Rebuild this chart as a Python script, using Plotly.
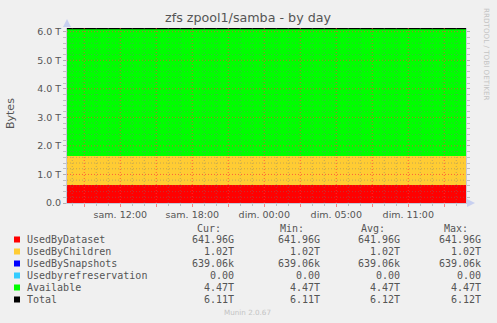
import plotly.graph_objects as go

# ---------------- data ----------------
# time in hours since Saturday 00:00 (first and last sample of the day graph)
times = [7.56, 40.81]
used_by_dataset = [641.96 / 1024, 641.96 / 1024]      # TiB
used_by_children = [1.02, 1.02]
used_by_snapshots = [639.06e3 / 1024**4, 639.06e3 / 1024**4]
used_by_refreservation = [0.0, 0.0]
available = [4.47, 4.47]
total = [6.11, 6.11]

series_names = ["UsedByDataset", "UsedByChildren", "UsedBySnapshots",
                "Usedbyrefreservation", "Available", "Total"]
series_colors = ["#FF0000", "#FFCC33", "#0000FF", "#33CCFF", "#00FF00", "#000000"]
cur_vals = ["641.96G", "1.02T", "639.06k", "0.00", "4.47T", "6.11T"]
min_vals = ["641.96G", "1.02T", "639.06k", "0.00", "4.47T", "6.11T"]
avg_vals = ["641.96G", "1.02T", "639.06k", "0.00", "4.47T", "6.12T"]
max_vals = ["641.96G", "1.02T", "639.06k", "0.00", "4.47T", "6.12T"]

x_tickvals = [9, 12, 15, 18, 21, 24, 27, 30, 33, 36, 39]
x_ticktext = ["", "sam. 12:00", "", "sam. 18:00", "", "dim. 00:00", "",
              "dim. 05:00", "", "dim. 11:00", ""]
y_tickvals = [0, 1, 2, 3, 4, 5, 6]
y_ticktext = ["0.0", "1.0 T", "2.0 T", "3.0 T", "4.0 T", "5.0 T", "6.0 T"]

# ---------------- layout geometry ----------------
W, H = 497, 323
L, R, T, B = 67, 31, 28, 120
PW, PH = W - L - R, H - T - B
XR = [7.56, 40.81]
YR = [0, 6.13]
BG = "#F0F0F0"
TXT = "#555555"


def px(x):
    return (x - L) / PW


def py(y):
    return (H - B - y) / PH


fig = go.Figure()
stack = [used_by_dataset, used_by_children, used_by_snapshots,
         used_by_refreservation, available]
for name, vals, col in zip(series_names[:5], stack, series_colors[:5]):
    fig.add_trace(go.Scatter(x=times, y=vals, name=name, mode="lines",
                             stackgroup="one", line=dict(width=0, color=col),
                             fillcolor=col))
fig.add_trace(go.Scatter(x=times, y=total, name="Total", mode="lines",
                         line=dict(width=1.5, color="#000000")))

shapes = []
# grid lines drawn above the areas (as rrdtool does)
minor_x = [h for h in range(8, 41) if h % 3 != 0]
for h in minor_x:
    shapes.append(dict(type="line", xref="x", yref="paper", x0=h, x1=h, y0=0, y1=1,
                       layer="above", line=dict(color="rgba(120,120,120,0.45)", width=1, dash="1px,2px")))
minor_y = [v / 10 for v in range(2, 61, 2) if v % 10 != 0]
for v in minor_y:
    shapes.append(dict(type="line", xref="paper", yref="y", x0=0, x1=1, y0=v, y1=v,
                       layer="above", line=dict(color="rgba(120,120,120,0.45)", width=1, dash="1px,2px")))
for h in x_tickvals:
    shapes.append(dict(type="line", xref="x", yref="paper", x0=h, x1=h, y0=0, y1=1,
                       layer="above", line=dict(color="rgba(255,60,60,0.75)", width=1, dash="1px,2px")))
for v in y_tickvals[1:]:
    shapes.append(dict(type="line", xref="paper", yref="y", x0=0, x1=1, y0=v, y1=v,
                       layer="above", line=dict(color="rgba(255,60,60,0.75)", width=1, dash="1px,2px")))

# axis arrows
ARROW = "#C8D0F0"
shapes.append(dict(type="path", xref="paper", yref="paper",
                   path=f"M {px(63)} {py(27)} L {px(71)} {py(27)} L {px(67)} {py(19)} Z",
                   fillcolor=ARROW, line=dict(width=0), layer="above"))
shapes.append(dict(type="path", xref="paper", yref="paper",
                   path=f"M {px(467)} {py(199)} L {px(467)} {py(207)} L {px(475)} {py(203)} Z",
                   fillcolor=ARROW, line=dict(width=0), layer="above"))

annotations = []
# title
annotations.append(dict(text="zfs zpool1/samba - by day", x=px(248.5), y=py(17.5),
                        xref="paper", yref="paper", showarrow=False,
                        font=dict(family="DejaVu Sans", size=12.7, color=TXT),
                        xanchor="center", yanchor="middle"))
# y axis title
annotations.append(dict(text="Bytes", x=px(10), y=py(114), xref="paper", yref="paper",
                        showarrow=False, textangle=-90,
                        font=dict(family="DejaVu Sans", size=11, color=TXT),
                        xanchor="center", yanchor="middle"))
# watermark
annotations.append(dict(text="RRDTOOL / TOBI OETIKER", x=px(487), y=py(54),
                        xref="paper", yref="paper", showarrow=False, textangle=90,
                        font=dict(family="DejaVu Sans", size=7.2, color="#C4C4C4"),
                        xanchor="center", yanchor="middle"))
annotations.append(dict(text="Munin 2.0.67", x=px(247.5), y=py(312), xref="paper",
                        yref="paper", showarrow=False,
                        font=dict(family="DejaVu Sans", size=7.2, color="#C4C4C4"),
                        xanchor="center", yanchor="middle"))

MONO = dict(family="DejaVu Sans Mono", size=10, color=TXT)
headers = [("Cur:", 223), ("Min:", 306), ("Avg:", 387), ("Max:", 470)]
for text, xr in headers:
    annotations.append(dict(text=text, x=px(xr), y=py(228), xref="paper", yref="paper",
                            showarrow=False, font=MONO, xanchor="right", yanchor="middle"))
row_y = [239.5, 251.5, 263.5, 275.5, 287.5, 299.5]
col_right = [236, 322, 402, 483]
for i, name in enumerate(series_names):
    yy = row_y[i]
    shapes.append(dict(type="rect", xref="paper", yref="paper",
                       x0=px(14), x1=px(20), y0=py(yy - 3), y1=py(yy + 3),
                       fillcolor=series_colors[i], line=dict(width=0)))
    annotations.append(dict(text=name, x=px(25), y=py(yy), xref="paper", yref="paper",
                            showarrow=False, font=MONO, xanchor="left", yanchor="middle"))
    for vals, xr in zip([cur_vals, min_vals, avg_vals, max_vals], col_right):
        annotations.append(dict(text=vals[i], x=px(xr), y=py(yy), xref="paper",
                                yref="paper", showarrow=False, font=MONO,
                                xanchor="right", yanchor="middle"))

fig.update_layout(
    width=W, height=H, margin=dict(l=L, r=R, t=T, b=B, pad=0),
    paper_bgcolor=BG, plot_bgcolor=BG, showlegend=False,
    shapes=shapes, annotations=annotations,
    xaxis=dict(range=XR, tickvals=x_tickvals, ticktext=x_ticktext, showgrid=False,
               zeroline=False, showline=True, linecolor="#C8C8D8", linewidth=1,
               ticks="outside", ticklen=3, tickcolor="rgba(255,60,60,0.6)",
               tickfont=dict(family="DejaVu Sans", size=9.5, color=TXT),
               minor=dict(tickvals=minor_x, ticks="outside", ticklen=2,
                          tickcolor="#C0C0C0", showgrid=False),
               fixedrange=True),
    yaxis=dict(range=YR, tickvals=y_tickvals, ticktext=y_ticktext, showgrid=False,
               zeroline=False, showline=True, linecolor="#C8C8D8", linewidth=1,
               ticks="outside", ticklen=3, tickcolor="#B0B0B0", mirror="ticks",
               tickfont=dict(family="DejaVu Sans", size=9.5, color=TXT),
               minor=dict(tickvals=minor_y, ticks="outside", ticklen=3,
                          tickcolor="#C0C0C0", showgrid=False),
               fixedrange=True),
)

fig.write_html("out.html")
